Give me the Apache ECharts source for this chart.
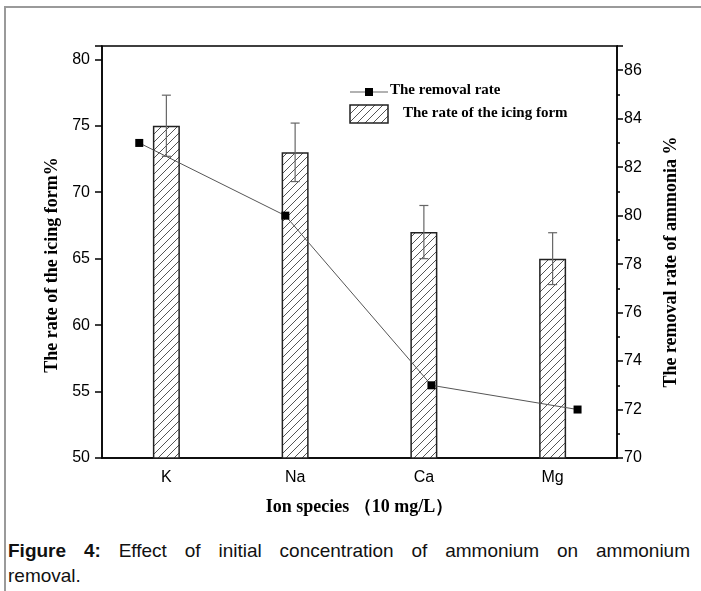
<!DOCTYPE html>
<html>
<head>
<meta charset="utf-8">
<script src="https://cdn.jsdelivr.net/npm/echarts@6/dist/echarts.min.js"></script>
<style>
  html, body { margin: 0; padding: 0; background: #fff; }
  #wrap { position: relative; width: 701px; height: 591px; overflow: hidden; }
  #frame { position: absolute; left: 4px; top: 6px; width: 720px; height: 600px;
           border-left: 2px solid #9a9a9a; border-top: 2px solid #9a9a9a; }
  #chart { position: absolute; left: 0; top: 0; width: 701px; height: 530px; }
  #caption { position: absolute; left: 8px; top: 538px; width: 682px;
             font-family: "Liberation Sans", Arial, sans-serif; font-size: 19px;
             line-height: 25px; color: #111; }
  #caption .l1 { text-align: justify; text-align-last: justify; }
</style>
</head>
<body>
<div id="wrap">
  <div id="frame"></div>
  <div id="chart"></div>
  <div id="caption">
    <div class="l1"><b>Figure 4:</b> Effect of initial concentration of ammonium on ammonium</div>
    <div>removal.</div>
  </div>
</div>
<script>
// 数据
var categories = ['K', 'Na', 'Ca', 'Mg'];
var icingRate = [75, 73, 67, 65];          // 左轴 柱状
var icingErr = [2.3, 2.2, 2.0, 1.95];      // 误差
var removalRate = [83, 80, 73, 72];        // 右轴 折线
var removalPos = [1, 2, 3, 4];             // 折线在隐藏数值轴上的位置
var leftTicks = [50, 81, 5];               // min, max, interval
var rightTicks = [70, 87, 2];
var seriesNames = ['The removal rate', 'The rate of the icing form'];

var serif = '"Liberation Serif", "Times New Roman", serif';
var sans = '"Liberation Sans", Arial, sans-serif';

// 斜线填充
function hatch(size) {
  var c = document.createElement('canvas');
  c.width = size; c.height = size;
  var ctx = c.getContext('2d');
  ctx.fillStyle = '#fff';
  ctx.fillRect(0, 0, size, size);
  ctx.strokeStyle = '#555';
  ctx.lineWidth = 1;
  ctx.beginPath();
  ctx.moveTo(0, size); ctx.lineTo(size, 0);
  ctx.moveTo(-1, 1); ctx.lineTo(1, -1);
  ctx.moveTo(size - 1, size + 1); ctx.lineTo(size + 1, size - 1);
  ctx.stroke();
  return c;
}
var pattern = { image: hatch(8), repeat: 'repeat' };

var errData = icingRate.map(function (v, i) { return [i, v - icingErr[i], v + icingErr[i]]; });
var lineData = removalRate.map(function (v, i) { return [removalPos[i], v]; });

var chart = echarts.init(document.getElementById('chart'));
chart.setOption({
  animation: false,
  grid: { left: 102, right: 84, top: 46, bottom: 72, show: true, borderColor: '#000', borderWidth: 1.5 },
  xAxis: [
    {
      type: 'category', data: categories, position: 'bottom',
      axisLine: { lineStyle: { color: '#000', width: 1.5 } },
      axisTick: { alignWithLabel: true, length: 7, lineStyle: { color: '#000', width: 1.5 } },
      axisLabel: { color: '#000', fontFamily: sans, fontSize: 16, margin: 12 },
      name: 'Ion species （10 mg/L）', nameLocation: 'middle', nameGap: 40,
      nameTextStyle: { color: '#000', fontFamily: serif, fontSize: 18, fontWeight: 'bold' }
    },
    {
      type: 'value', show: false, min: 0.745, max: 4.27, position: 'top'
    },
    {
      type: 'category', data: categories, position: 'bottom',
      axisLine: { show: false },
      axisTick: { length: 4, lineStyle: { color: '#000', width: 1.5 } },
      axisLabel: { show: false }
    }
  ],
  yAxis: [
    {
      type: 'value', min: leftTicks[0], max: leftTicks[1], interval: leftTicks[2],
      axisLine: { show: true, lineStyle: { color: '#000', width: 1.5 } },
      axisTick: { show: true, length: 7, lineStyle: { color: '#000', width: 1.5 } },
      axisLabel: { color: '#000', fontFamily: sans, fontSize: 16, margin: 12,
        formatter: function (v) { return v % 5 === 0 ? v : ''; } },
      splitLine: { show: false },
      name: 'The rate of the icing form%', nameLocation: 'middle', nameGap: 40, nameRotate: 90,
      nameTextStyle: { color: '#000', fontFamily: serif, fontSize: 18, fontWeight: 'bold', padding: [0, 26, 0, 0] }
    },
    {
      type: 'value', position: 'right', min: rightTicks[0], max: rightTicks[1], interval: rightTicks[2],
      axisLine: { show: true, lineStyle: { color: '#000', width: 1.5 } },
      axisTick: { show: true, length: 6, lineStyle: { color: '#000', width: 1.5 } },
      minorTick: { show: true, splitNumber: 2, length: 3, lineStyle: { color: '#000', width: 1.5 } },
      axisLabel: { color: '#000', fontFamily: sans, fontSize: 16, margin: 7,
        formatter: function (v) { return v > 86 ? '' : v; } },
      splitLine: { show: false },
      name: 'The removal rate of ammonia %', nameLocation: 'middle', nameGap: 45, nameRotate: 90,
      nameTextStyle: { color: '#000', fontFamily: serif, fontSize: 18, fontWeight: 'bold', padding: [0, 20, 0, 0] }
    }
  ],
  series: [
    {
      name: seriesNames[1], type: 'bar', xAxisIndex: 0, yAxisIndex: 0,
      data: icingRate, barWidth: 27,
      itemStyle: { color: pattern, borderColor: '#222', borderWidth: 1.5 },
      z: 2
    },
    {
      type: 'custom', xAxisIndex: 0, yAxisIndex: 0, data: errData, z: 3,
      renderItem: function (params, api) {
        var x = api.coord([api.value(0), api.value(1)])[0];
        var lo = api.coord([api.value(0), api.value(1)])[1];
        var hi = api.coord([api.value(0), api.value(2)])[1];
        var w = 4.5;
        var st = { stroke: '#666', lineWidth: 1.2 };
        return {
          type: 'group',
          children: [
            { type: 'line', shape: { x1: x, y1: lo, x2: x, y2: hi }, style: st },
            { type: 'line', shape: { x1: x - w, y1: hi, x2: x + w, y2: hi }, style: st },
            { type: 'line', shape: { x1: x - w, y1: lo, x2: x + w, y2: lo }, style: st }
          ]
        };
      }
    },
    {
      name: seriesNames[0], type: 'line', xAxisIndex: 1, yAxisIndex: 1,
      data: lineData, symbol: 'rect', symbolSize: 8,
      lineStyle: { color: '#555', width: 1 },
      itemStyle: { color: '#000' },
      z: 4
    }
  ],
  graphic: [
    { type: 'line', shape: { x1: 350, y1: 92, x2: 388, y2: 92 }, style: { stroke: '#999', lineWidth: 1.5 } },
    { type: 'rect', shape: { x: 365, y: 88, width: 8, height: 8 }, style: { fill: '#000' } },
    { type: 'text', left: 390, top: 83, style: { text: seriesNames[0], font: 'bold 15px ' + serif, fill: '#000' } },
    { type: 'rect', shape: { x: 350, y: 105, width: 38, height: 18 }, style: { fill: pattern, stroke: '#222', lineWidth: 1.5 } },
    { type: 'text', left: 403, top: 106, style: { text: seriesNames[1], font: 'bold 15px ' + serif, fill: '#000' } }
  ]
});
</script>
</body>
</html>
